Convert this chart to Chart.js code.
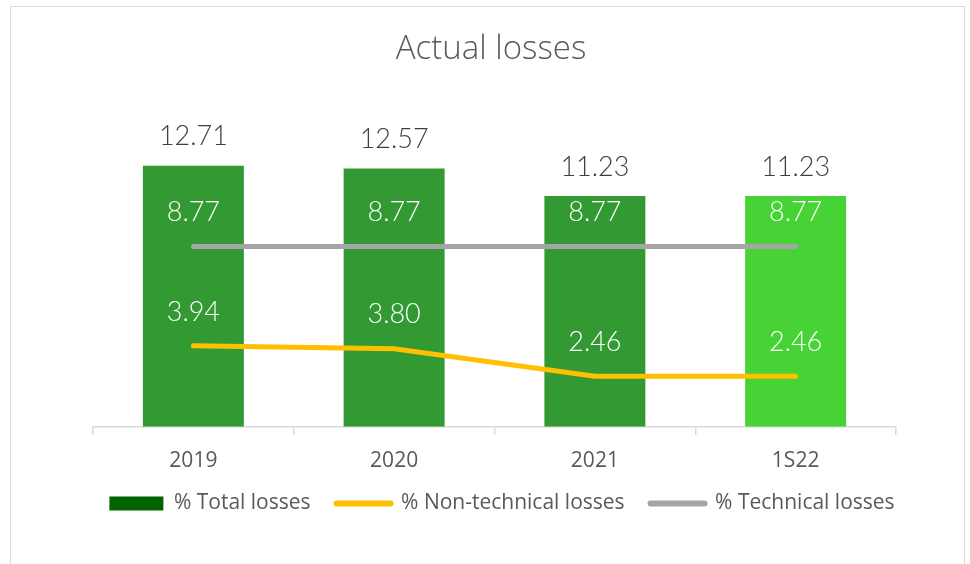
<!DOCTYPE html>
<html>
<head>
<meta charset="utf-8">
<script src="https://cdn.jsdelivr.net/npm/chart.js@4/dist/chart.umd.min.js"></script>
<style>
html,body{margin:0;padding:0;background:#fff;}
#wrap{position:relative;width:970px;height:564px;}
</style>
</head>
<body>
<div id="wrap"><canvas id="c" width="970" height="564"></canvas></div>
<script>
const categories = ["2019", "2020", "2021", "1S22"];
const totalLosses = [12.71, 12.57, 11.23, 11.23];
const nonTechnicalLosses = [3.94, 3.80, 2.46, 2.46];
const technicalLosses = [8.77, 8.77, 8.77, 8.77];
const seriesNames = ["% Total losses", "% Non-technical losses", "% Technical losses"];
const chartTitle = "Actual losses";

const labelFont = "'Lato', 'DejaVu Sans', sans-serif";
const textFont = "'Open Sans', 'Liberation Sans', sans-serif";

const framePlugin = {
  id: 'frame',
  beforeDraw(chart) {
    const ctx = chart.ctx;
    ctx.save();
    ctx.fillStyle = '#fff';
    ctx.fillRect(0, 0, chart.width, chart.height);
    ctx.strokeStyle = '#d9d9d9';
    ctx.lineWidth = 1;
    ctx.strokeRect(10.5, 6.5, 954, 600);
    ctx.restore();
  }
};

const legendShift = {
  id: 'legendShift',
  afterLayout(chart) {
    if (chart.legend) {
      chart.legend.left += 11;
      chart.legend.right += 11;
    }
  }
};

const labelPlugin = {
  id: 'valueLabels',
  afterDatasetsDraw(chart) {
    const ctx = chart.ctx;
    ctx.save();
    ctx.textAlign = 'center';
    ctx.textBaseline = 'middle';
    ctx.font = "300 27px " + labelFont;
    chart.data.datasets.forEach((ds, di) => {
      const meta = chart.getDatasetMeta(di);
      meta.data.forEach((el, i) => {
        const v = ds.data[i].toFixed(2);
        if (ds.type === 'bar') {
          ctx.fillStyle = '#404040';
          ctx.fillText(v, el.x, el.y - 29);
        } else {
          ctx.fillStyle = '#ffffff';
          ctx.fillText(v, el.x, el.y - 34);
        }
      });
    });
    ctx.restore();
  }
};

const hiddenAxis = (pos, width) => ({
  position: pos,
  display: true,
  min: 0,
  max: 15,
  grid: { display: false },
  border: { display: false },
  ticks: { display: false },
  afterFit(scale) { scale.width = width; }
});

new Chart(document.getElementById('c'), {
  data: {
    labels: categories,
    datasets: [
      {
        type: 'line',
        label: seriesNames[1],
        data: nonTechnicalLosses,
        borderColor: '#FFC000',
        backgroundColor: '#FFC000',
        borderWidth: 5,
        borderCapStyle: 'round',
        pointRadius: 0,
        tension: 0,
        yAxisID: 'y',
        order: 1
      },
      {
        type: 'line',
        label: seriesNames[2],
        data: technicalLosses,
        borderColor: '#A5A5A5',
        backgroundColor: '#A5A5A5',
        borderWidth: 5,
        borderCapStyle: 'round',
        pointRadius: 0,
        tension: 0,
        yAxisID: 'y',
        order: 1
      },
      {
        type: 'bar',
        label: seriesNames[0],
        data: totalLosses,
        backgroundColor: ['#339933', '#339933', '#339933', '#47D335'],
        borderWidth: 0,
        categoryPercentage: 1,
        barPercentage: 0.503,
        yAxisID: 'y',
        order: 2
      }
    ]
  },
  options: {
    responsive: false,
    animation: false,
    layout: { padding: { left: 16, right: 4, top: 0, bottom: 40 } },
    scales: {
      x: {
        grid: { display: true, drawOnChartArea: false, offset: true, tickLength: 8, color: '#d9d9d9', lineWidth: 1.5 },
        border: { display: true, color: '#d9d9d9', width: 1.5 },
        ticks: { color: '#595959', font: { family: textFont, size: 21 }, padding: 14 },
        afterFit(scale) { scale.height = scale.height - 21; }
      },
      y: hiddenAxis('left', 77),
      y2: hiddenAxis('right', 70)
    },
    plugins: {
      title: {
        display: true,
        text: chartTitle,
        color: '#595959',
        font: { family: textFont, size: 33, weight: '300' },
        padding: { top: 30, bottom: 49 }
      },
      legend: {
        position: 'bottom',
        labels: {
          usePointStyle: true,
          pointStyleWidth: 54,
          boxHeight: 14,
          color: '#595959',
          font: { family: textFont, size: 21 },
          padding: 26,
          generateLabels(chart) {
            const order = [2, 0, 1];
            return order.map(i => {
              const ds = chart.data.datasets[i];
              const isBar = ds.type === 'bar';
              return {
                text: ds.label,
                datasetIndex: i,
                fillStyle: isBar ? '#006400' : ds.borderColor,
                strokeStyle: isBar ? '#006400' : ds.borderColor,
                lineWidth: isBar ? 0 : 6,
                lineCap: 'round',
                pointStyle: isBar ? 'rect' : 'line',
                fontColor: '#595959',
                hidden: false
              };
            });
          }
        }
      },
      tooltip: { enabled: false }
    }
  },
  plugins: [framePlugin, legendShift, labelPlugin]
});
</script>
</body>
</html>
